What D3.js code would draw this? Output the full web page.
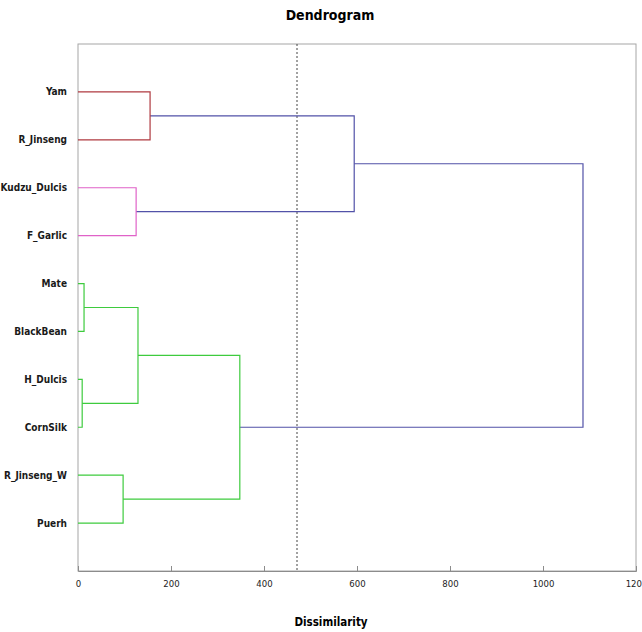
<!DOCTYPE html>
<html>
<head>
<meta charset="utf-8">
<script src="https://cdn.jsdelivr.net/npm/d3@7"></script>
<style>
  body { margin: 0; background: #fff; }
  text { font-family: "DejaVu Sans Condensed", "Liberation Sans Narrow", Arial, sans-serif; }
</style>
</head>
<body>
<script>
// Leaves (objects) and merges: [left, right, dissimilarity]
// indices < leaves.length are leaves, others refer to earlier merges
const leaves = ["Yam", "R_Jinseng", "Kudzu_Dulcis", "F_Garlic", "Mate",
                "BlackBean", "H_Dulcis", "CornSilk", "R_Jinseng_W", "Puerh"];
const merges = [
  [0, 1, 155],     // 10
  [2, 3, 125],     // 11
  [4, 5, 13],      // 12
  [6, 7, 9],       // 13
  [12, 13, 129],   // 14
  [8, 9, 97],      // 15
  [14, 15, 348],   // 16
  [10, 11, 594],   // 17
  [17, 16, 1086]   // 18
];
const truncation = 471;
const xTicks = [0, 200, 400, 600, 800, 1000, 1200];
const clusterColors = ["#b03a40", "#e062c8", "#3ecb3e"];
const aboveColor = "#5252a8";

const width = 642, height = 632;
const margin = {top: 44, right: 6, bottom: 61, left: 78};

const svg = d3.select("body").append("svg")
    .attr("width", width)
    .attr("height", height);

// Build the tree from the merge list
const nodes = leaves.map(name => ({ name, height: 0 }));
merges.forEach(m => nodes.push({ children: [nodes[m[0]], nodes[m[1]]], height: m[2] }));
const root = d3.hierarchy(nodes[nodes.length - 1]);

const x = d3.scaleLinear()
    .domain([0, 1200])
    .range([margin.left, width - margin.right]);

const y = d3.scalePoint()
    .domain(root.leaves().map(d => d.data.name))
    .range([margin.top, height - margin.bottom])
    .padding(1);

// positions: leaves on the point scale, parents at the middle of their children
root.eachAfter(d => {
  d.px = x(d.data.height);
  d.py = d.children ? d3.mean(d.children, c => c.py) : y(d.data.name);
});

// colour: clusters are the largest subtrees below the truncation line
let k = 0;
root.eachBefore(d => {
  if (d.data.height >= truncation) d.color = aboveColor;
  else if (d.parent && d.parent.data.height < truncation) d.color = d.parent.color;
  else d.color = clusterColors[k++ % clusterColors.length];
});

// plot frame
svg.append("rect")
    .attr("x", margin.left)
    .attr("y", margin.top)
    .attr("width", width - margin.right - margin.left)
    .attr("height", height - margin.bottom - margin.top)
    .attr("fill", "none")
    .attr("stroke", "#a6a6a6");

// x axis
const axis = svg.append("g")
    .attr("transform", `translate(0,${height - margin.bottom})`)
    .call(d3.axisBottom(x).tickValues(xTicks).tickFormat(d3.format("d"))
      .tickSize(-5).tickPadding(9));
axis.select(".domain").attr("stroke", "#8c8c8c");
axis.selectAll(".tick line").attr("stroke", "#8c8c8c");
axis.selectAll(".tick text")
    .attr("font-size", 9.5)
    .attr("fill", "#222")
    .style("font-family", "'DejaVu Sans Condensed', Arial, sans-serif");

// truncation line
svg.append("line")
    .attr("x1", x(truncation)).attr("x2", x(truncation))
    .attr("y1", margin.top).attr("y2", height - margin.bottom)
    .attr("stroke", "#444")
    .attr("stroke-width", 1)
    .attr("stroke-dasharray", "2,2");

// links: elbow from each child to its parent
svg.append("g")
  .selectAll("path")
  .data(root.descendants().filter(d => d.children))
  .join("path")
    .attr("fill", "none")
    .attr("stroke", d => d.color)
    .attr("stroke-width", 1.2)
    .attr("d", d => {
      const [a, b] = d.children;
      return `M${a.px},${a.py}H${d.px}V${b.py}H${b.px}`;
    });

// leaf labels
svg.append("g")
  .selectAll("text")
  .data(root.leaves())
  .join("text")
    .attr("x", margin.left - 11)
    .attr("y", d => d.py)
    .attr("dy", "0.35em")
    .attr("text-anchor", "end")
    .attr("font-size", 10)
    .attr("font-weight", "bold")
    .attr("fill", "#1a1a1a")
    .text(d => d.data.name);

// title
svg.append("text")
    .attr("x", 330)
    .attr("y", 20)
    .attr("text-anchor", "middle")
    .attr("font-size", 14)
    .attr("font-weight", "bold")
    .text("Dendrogram");

// axis title
svg.append("text")
    .attr("x", 331)
    .attr("y", 626)
    .attr("text-anchor", "middle")
    .attr("font-size", 11.5)
    .attr("font-weight", "bold")
    .text("Dissimilarity");
</script>
</body>
</html>
